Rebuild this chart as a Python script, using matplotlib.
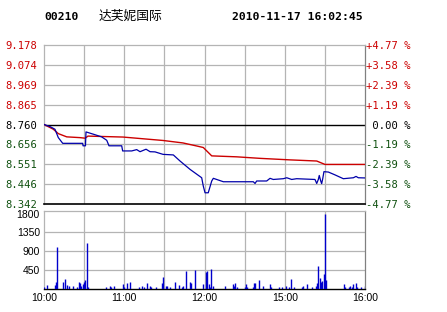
import matplotlib
matplotlib.use("Agg")
import matplotlib.pyplot as plt

# ---------------- data ----------------
stock_code = "00210"
stock_name = "达芙妮国际"
timestamp = "2010-11-17 16:02:45"

price_ticks = [9.178, 9.074, 8.969, 8.865, 8.760, 8.656, 8.551, 8.446, 8.342]
pct_labels = ["+4.77 %", "+3.58 %", "+2.39 %", "+1.19 %", " 0.00 %",
              "-1.19 %", "-2.39 %", "-3.58 %", "-4.77 %"]
prev_close = 8.760

time_labels = ["10:00", "11:00", "12:00", "15:00", "16:00"]
time_label_pos = [0, 60, 120, 180, 240]
grid_minutes = [0, 30, 60, 90, 120, 150, 180, 210, 240]

price_min = [0, 4.5, 8.2, 10.7, 14.0, 28.9, 29.2, 31.0, 31.4, 36.9, 43.1, 46.9,
             48.6, 58.1, 58.8, 65.6, 69.3, 71.8, 76.3, 79.3, 83.0, 89.0, 96.7,
             101.7, 109.2, 117.9, 119.1, 120.4, 122.8, 125.4, 126.6, 134.1,
             156.5, 157.8, 159.0, 166.5, 169.0, 171.4, 178.9, 181.5, 185.2,
             188.9, 202.6, 203.9, 205.1, 205.8, 206.9, 207.6, 208.4, 209.3,
             212.6, 217.6, 223.8, 231.3, 233.3, 235.0, 240.0]
price_val = [8.760, 8.749, 8.735, 8.691, 8.661, 8.661, 8.648, 8.648, 8.721,
             8.709, 8.695, 8.677, 8.648, 8.648, 8.621, 8.621, 8.628, 8.617,
             8.630, 8.617, 8.616, 8.603, 8.600, 8.568, 8.524, 8.480, 8.436,
             8.401, 8.401, 8.463, 8.477, 8.459, 8.459, 8.450, 8.463, 8.463,
             8.477, 8.471, 8.475, 8.480, 8.471, 8.475, 8.471, 8.450, 8.471,
             8.492, 8.463, 8.449, 8.475, 8.512, 8.510, 8.495, 8.475, 8.480,
             8.487, 8.480, 8.479]

avg_min = [0, 7.0, 10.7, 17.0, 26.9, 30.7, 32.9, 59.1, 74.0, 89.0, 103.9,
           114.2, 119.1, 125.4, 144.1, 161.5, 183.9, 203.9, 210.1, 240.0]
avg_val = [8.760, 8.735, 8.712, 8.695, 8.691, 8.688, 8.699, 8.694, 8.685,
           8.676, 8.663, 8.647, 8.639, 8.595, 8.590, 8.582, 8.574, 8.568,
           8.550, 8.550]

vol_min = [0, 2, 8, 9, 10, 14, 16, 17, 19, 22, 25, 26, 27, 28, 29, 30, 31, 32,
           33, 46, 49, 50, 52, 59, 60, 62, 64, 71, 73, 75, 77, 79, 80, 84, 88,
           89, 91, 92, 94, 98, 101, 103, 104, 106, 109, 110, 113, 119, 121,
           122, 123, 124, 125, 126, 135, 141, 142, 143, 144, 150, 151, 152,
           156, 157, 158, 161, 164, 169, 170, 176, 178, 181, 183, 185, 187,
           193, 194, 197, 200, 203, 204, 205, 206, 207, 208, 209, 210, 211,
           224, 225, 228, 229, 230, 231, 233, 234, 237, 240]
vol_val = [47, 101, 101, 171, 1010, 175, 239, 103, 80, 80, 48, 175, 143, 80,
           111, 175, 223, 1090, 48, 48, 80, 48, 80, 127, 48, 143, 175, 48, 80,
           48, 143, 80, 48, 48, 143, 295, 80, 80, 48, 175, 96, 48, 80, 438,
           175, 143, 462, 127, 406, 438, 127, 48, 478, 80, 80, 111, 80, 143,
           48, 48, 111, 48, 48, 143, 143, 223, 80, 111, 48, 48, 48, 80, 48,
           239, 48, 48, 80, 111, 48, 80, 143, 549, 271, 159, 191, 366, 1790,
           223, 127, 48, 48, 80, 48, 111, 143, 48, 48, 80]
vol_ticks = [450, 900, 1350, 1800]

# ---------------- styling ----------------
W, H = 447, 312
RED = "#cc0000"
GREEN = "#0f500f"
GRID = "#b4b4b4"
MONO = "DejaVu Sans Mono"
SANS = "Liberation Sans"

fig = plt.figure(figsize=(W / 100, H / 100), dpi=100)
fig.patch.set_facecolor("white")


def rect(l, t, r, b):
    return [l / W, 1 - b / H, (r - l) / W, (b - t) / H]


ax = fig.add_axes(rect(44, 45, 365, 204))
axv = fig.add_axes(rect(44, 211, 365, 289))

# ---- price panel ----
ax.set_xlim(0, 240)
ax.set_ylim(price_ticks[-1], price_ticks[0])
for m in grid_minutes[1:-1]:
    ax.axvline(m, color=GRID, lw=0.9, zorder=1)
for p in price_ticks[1:-1]:
    if p == prev_close:
        continue
    ax.axhline(p, color=GRID, lw=0.9, zorder=1)
ax.axhline(prev_close, color="black", lw=1.0, zorder=2)
ax.plot(avg_min, avg_val, color=RED, lw=1.0, zorder=3)
ax.plot(price_min, price_val, color="#0000aa", lw=0.9, zorder=4)

for s in ["top", "left", "right"]:
    ax.spines[s].set_color(GRID)
    ax.spines[s].set_linewidth(0.9)
ax.spines["right"].set_color("#808080")
ax.spines["bottom"].set_color("black")
ax.spines["bottom"].set_linewidth(1.2)
ax.set_xticks([])
ax.set_yticks(price_ticks)
ax.set_yticklabels([f"{p:.3f}" for p in price_ticks], fontfamily=MONO, fontsize=7.6)
ax.tick_params(axis="y", length=0, pad=5)
for lbl, p in zip(ax.get_yticklabels(), price_ticks):
    lbl.set_color(RED if p > prev_close else ("black" if p == prev_close else GREEN))

axr = ax.twinx()
axr.set_ylim(ax.get_ylim())
axr.set_yticks(price_ticks)
axr.set_yticklabels(pct_labels, fontfamily=MONO, fontsize=7.6)
axr.tick_params(axis="y", length=0, pad=1)
for s in axr.spines.values():
    s.set_visible(False)
for lbl, p in zip(axr.get_yticklabels(), price_ticks):
    lbl.set_color(RED if p > prev_close else ("black" if p == prev_close else GREEN))

# ---- volume panel ----
axv.set_xlim(0, 240)
axv.set_ylim(0, 1860)
for m in grid_minutes[1:-1]:
    axv.axvline(m, color=GRID, lw=0.9, zorder=1)
for v in vol_ticks[:-1]:
    axv.axhline(v, color=GRID, lw=0.9, zorder=1)
axv.vlines(vol_min, 0, vol_val, color="#0000cc", lw=1.0, zorder=3)
for s in ["top", "left", "right"]:
    axv.spines[s].set_color(GRID)
    axv.spines[s].set_linewidth(0.9)
axv.spines["right"].set_color("#808080")
axv.spines["bottom"].set_color("black")
axv.spines["bottom"].set_linewidth(1.0)
axv.set_yticks(vol_ticks)
axv.set_yticklabels([str(v) for v in vol_ticks], fontfamily=SANS, fontsize=7.5)
axv.set_xticks(time_label_pos)
axv.set_xticklabels(time_labels, fontfamily=SANS, fontsize=7.5)
axv.tick_params(axis="both", length=0, pad=3)

# ---- header ----
fig.text(44 / W, 1 - 17 / H, stock_code, fontfamily=MONO, fontweight="bold",
         fontsize=8.2, va="center", ha="left")
fig.text(99 / W, 1 - 16 / H, stock_name, fontfamily="Noto Sans CJK SC",
         fontsize=9.2, va="center", ha="left")
fig.text(232 / W, 1 - 17 / H, timestamp, fontfamily=MONO, fontweight="bold",
         fontsize=8.2, va="center", ha="left")

fig.savefig("out.png", dpi=100)
